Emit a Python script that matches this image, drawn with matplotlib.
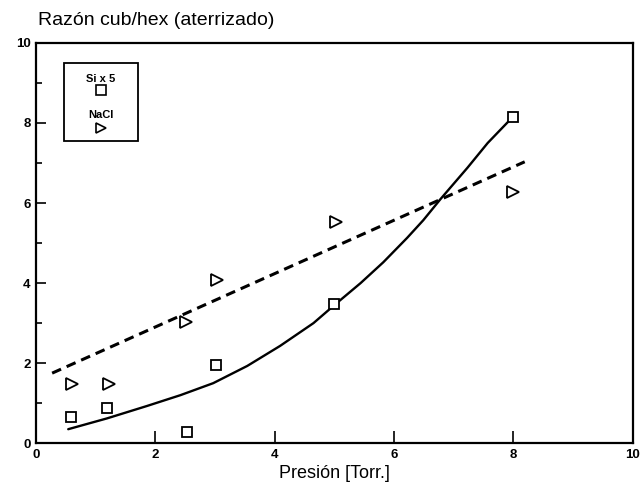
import matplotlib.pyplot as plt
from matplotlib.patches import Rectangle
from matplotlib.ticker import MultipleLocator

plt.rcParams['font.family'] = ['Liberation Sans', 'DejaVu Sans']

# Si (x5) measurements
si_p = [0.58, 1.19, 2.53, 3.02, 5.0, 7.99]
si_r = [0.65, 0.87, 0.28, 1.95, 3.47, 8.15]

# NaCl measurements
nacl_p = [0.6, 1.22, 2.52, 3.03, 5.02, 8.0]
nacl_r = [1.47, 1.47, 3.03, 4.07, 5.53, 6.28]

# fitted trend for Si (solid)
si_fit_p = [0.54, 1.19, 1.86, 2.42, 2.97, 3.54, 4.09, 4.65, 5.0, 5.44, 5.82,
            6.22, 6.49, 6.78, 7.23, 7.57, 7.99]
si_fit_r = [0.35, 0.62, 0.93, 1.2, 1.5, 1.93, 2.43, 3.0, 3.45, 4.0, 4.52,
            5.13, 5.57, 6.1, 6.88, 7.5, 8.15]

# linear trend for NaCl (dashed)
nacl_fit_p = [0.27, 8.19]
nacl_fit_r = [1.75, 7.03]

fig = plt.figure(figsize=(6.43, 4.93), dpi=100)
ax = fig.add_axes([0.056, 0.101, 0.928, 0.812])

ax.plot(si_fit_p, si_fit_r, color='black', lw=1.7, solid_capstyle='round',
        solid_joinstyle='round')
ax.plot(nacl_fit_p, nacl_fit_r, color='black', lw=2.2, dashes=(3.2, 2.0))

ax.plot(si_p, si_r, ls='none', marker='s', ms=7.5, mfc='white', mec='black', mew=1.3)
ax.plot(nacl_p, nacl_r, ls='none', marker='>', ms=9, mfc='white', mec='black', mew=1.3)

ax.set_xlim(0, 10)
ax.set_ylim(0, 10)
ax.xaxis.set_major_locator(MultipleLocator(2))
ax.yaxis.set_major_locator(MultipleLocator(2))
ax.yaxis.set_minor_locator(MultipleLocator(1))
ax.tick_params(axis='both', which='major', direction='in', length=7, width=1.2,
               labelsize=9.5, pad=4)
ax.tick_params(axis='y', which='minor', direction='in', length=4, width=1.2)
ax.tick_params(axis='x', which='major', length=9)
for lab in ax.get_xticklabels() + ax.get_yticklabels():
    lab.set_fontweight('bold')
for sp in ax.spines.values():
    sp.set_linewidth(1.6)

ax.set_xlabel('Presión [Torr.]', fontsize=13, labelpad=3)
fig.text(0.059, 0.958, 'Razón cub/hex (aterrizado)', fontsize=14, ha='left', va='center')

# key box in upper left
ax.add_patch(Rectangle((0.047, 0.755), 0.124, 0.195, transform=ax.transAxes,
                       fill=False, lw=1.3, ec='black'))
ax.text(0.109, 0.91, 'Si x 5', transform=ax.transAxes, ha='center', va='center',
        fontsize=8, fontweight='bold')
ax.plot([0.109], [0.882], transform=ax.transAxes, marker='s', ms=6.5, mfc='white',
        mec='black', mew=1.2, ls='none')
ax.text(0.109, 0.82, 'NaCl', transform=ax.transAxes, ha='center', va='center',
        fontsize=8, fontweight='bold')
ax.plot([0.109], [0.788], transform=ax.transAxes, marker='>', ms=7, mfc='white',
        mec='black', mew=1.2, ls='none')

fig.savefig('out.png', dpi=100)
